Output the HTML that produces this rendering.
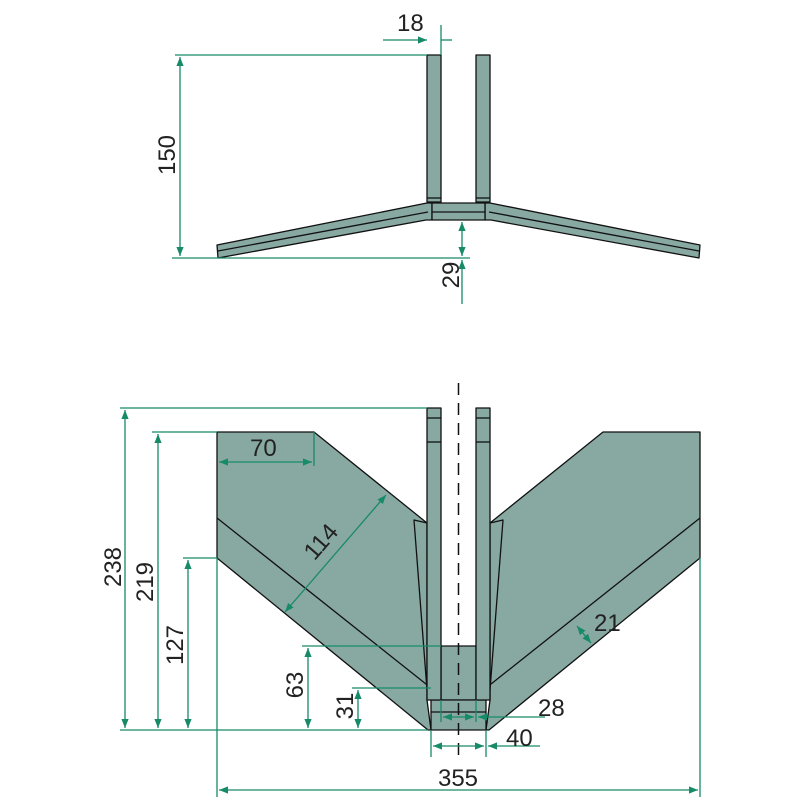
<!DOCTYPE html>
<html><head><style>body{margin:0;background:#fff}svg{display:block}text{font-family:"Liberation Sans",sans-serif;font-size:24px;fill:#222}</style></head><body>
<svg width="800" height="800" viewBox="0 0 800 800">
<defs>
<marker id="a" viewBox="0 0 10 10" refX="10" refY="5" markerWidth="9" markerHeight="9" orient="auto-start-reverse" markerUnits="userSpaceOnUse"><path d="M0,1 L10,5 L0,9 z" fill="#178a68"/></marker>
</defs>
<g stroke="#111" stroke-width="1.3" fill="#88a8a2" stroke-linejoin="round">
<rect x="427" y="55" width="14" height="147"/>
<rect x="476" y="55" width="14" height="147"/>
<path d="M217,245 L427,203 L432,203 L432,220 L426,220 L218,258 Z"/>
<path d="M700,245 L490,203 L485,203 L485,220 L491,220 L699,258 Z"/>
<path d="M432,203 L485,203 L485,220 L432,220 Z"/>
<line x1="432" y1="212" x2="485" y2="212"/>
<line x1="218" y1="251" x2="428" y2="212"/>
<line x1="699" y1="251" x2="489" y2="212"/>
<line x1="427" y1="198" x2="441" y2="198"/><line x1="476" y1="198" x2="490" y2="198"/>
<path d="M217,432 L314,432 L427,523 L427,700 L431,730 L428,730 L217,558 Z"/>
<path d="M700,432 L603,432 L490,523 L490,700 L486,730 L489,730 L700,558 Z"/>
<line x1="217" y1="518" x2="431" y2="688"/>
<line x1="700" y1="518" x2="486" y2="688"/>
<path d="M414,520 L427,690 L427,523 Z"/>
<path d="M503,520 L490,690 L490,523 Z"/>
<rect x="441" y="646" width="35" height="54"/>
<path d="M431,700 L486,700 L486,730 L431,730 Z"/>
<line x1="431" y1="712" x2="486" y2="712"/>
<rect x="427" y="408" width="14" height="292"/>
<rect x="476" y="408" width="14" height="292"/>
<line x1="427" y1="418" x2="441" y2="418"/><line x1="476" y1="418" x2="490" y2="418"/>
<line x1="427" y1="442" x2="441" y2="442"/><line x1="476" y1="442" x2="490" y2="442"/>
</g>
<line x1="458.5" y1="383" x2="458.5" y2="755" stroke="#111" stroke-width="1.5" stroke-dasharray="12,8"/>
<g stroke="#178a68" stroke-width="1.3" fill="none">
<line x1="175" y1="55" x2="427" y2="55"/><line x1="172" y1="258" x2="470" y2="258"/>
<line x1="180" y1="57" x2="180" y2="256" marker-start="url(#a)" marker-end="url(#a)"/>
<line x1="441" y1="25" x2="441" y2="55"/>
<line x1="383" y1="40" x2="427" y2="40" marker-end="url(#a)"/>
<line x1="441" y1="40" x2="452" y2="40"/>
<line x1="462" y1="222" x2="462" y2="256" marker-start="url(#a)" marker-end="url(#a)"/>
<line x1="462" y1="304" x2="462" y2="260" marker-end="url(#a)"/>
<line x1="120" y1="408" x2="427" y2="408"/>
<line x1="152" y1="432" x2="217" y2="432"/>
<line x1="183" y1="558" x2="217" y2="558"/>
<line x1="120" y1="730" x2="428" y2="730"/>
<line x1="125" y1="410" x2="125" y2="728" marker-start="url(#a)" marker-end="url(#a)"/>
<line x1="158" y1="434" x2="158" y2="728" marker-start="url(#a)" marker-end="url(#a)"/>
<line x1="188" y1="560" x2="188" y2="728" marker-start="url(#a)" marker-end="url(#a)"/>
<line x1="302" y1="646" x2="441" y2="646"/>
<line x1="352" y1="688" x2="431" y2="688"/>
<line x1="308" y1="648" x2="308" y2="728" marker-start="url(#a)" marker-end="url(#a)"/>
<line x1="358" y1="690" x2="358" y2="728" marker-start="url(#a)" marker-end="url(#a)"/>
<line x1="217" y1="558" x2="217" y2="797"/><line x1="700" y1="558" x2="700" y2="797"/>
<line x1="219" y1="790" x2="698" y2="790" marker-start="url(#a)" marker-end="url(#a)"/>
<line x1="219" y1="462" x2="312" y2="462" marker-start="url(#a)" marker-end="url(#a)"/>
<line x1="314" y1="432" x2="314" y2="466"/>
<line x1="386" y1="495" x2="285" y2="612" marker-start="url(#a)" marker-end="url(#a)"/>
<line x1="577" y1="626" x2="591" y2="643" marker-start="url(#a)" marker-end="url(#a)"/>
<line x1="431" y1="730" x2="431" y2="757"/><line x1="486" y1="730" x2="486" y2="757"/>
<line x1="433" y1="746" x2="484" y2="746" marker-start="url(#a)" marker-end="url(#a)"/>
<line x1="488" y1="746" x2="540" y2="746" marker-start="url(#a)"/>
<line x1="441" y1="700" x2="441" y2="722"/><line x1="476" y1="700" x2="476" y2="722"/>
<line x1="443" y1="717" x2="474" y2="717" marker-start="url(#a)" marker-end="url(#a)"/>
<line x1="478" y1="717" x2="545" y2="717" marker-start="url(#a)"/>
</g>
<text x="397" y="31">18</text>
<text transform="translate(175,155) rotate(-90)" text-anchor="middle">150</text>
<text transform="translate(459,275) rotate(-90)" text-anchor="middle">29</text>
<text transform="translate(121,567) rotate(-90)" text-anchor="middle">238</text>
<text transform="translate(153,582) rotate(-90)" text-anchor="middle">219</text>
<text transform="translate(183,645) rotate(-90)" text-anchor="middle">127</text>
<text transform="translate(303,685) rotate(-90)" text-anchor="middle">63</text>
<text transform="translate(353,706) rotate(-90)" text-anchor="middle">31</text>
<text x="250" y="456">70</text>
<text transform="translate(327,547) rotate(-49)" text-anchor="middle">114</text>
<text x="594" y="631">21</text>
<text x="538" y="716">28</text>
<text x="506" y="746">40</text>
<text x="458" y="786" text-anchor="middle">355</text>
</svg>
</body></html>
